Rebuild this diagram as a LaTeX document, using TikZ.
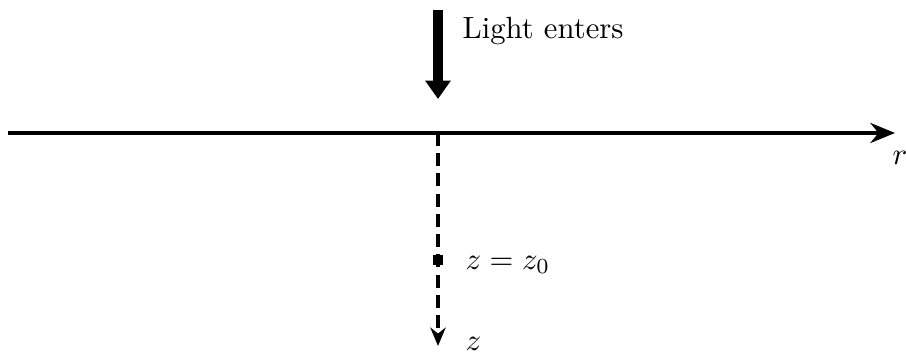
\documentclass[tikz,border=0pt]{standalone}
\usetikzlibrary{arrows.meta}
\begin{document}
\begin{tikzpicture}[x=0.326pt,y=-0.326pt]
\useasboundingbox (0,0) rectangle (906,354);
\tikzset{axisline/.style={line width=1.6pt,-{Stealth[length=8pt,width=6.5pt]}},
  beam/.style={line width=3.3pt,-{Triangle[length=6pt,width=8pt]}},
  depth/.style={line width=1pt,dash pattern=on 4.2pt off 2.4pt,-{Stealth[length=6pt,width=5pt]}}}
\coordinate (rstart) at (8,133);
\coordinate (rend) at (895,133);
\coordinate (origin) at (438,133);
\coordinate (zend) at (438,346);
\coordinate (lighttop) at (438,10);
\coordinate (lightbot) at (438,99);
\node[inner sep=0pt,anchor=west] (light) at (462,31) {Light enters};
\node[inner sep=0pt] (rlabel) at (900,158) {$r$};
\node[draw,fill,rectangle,inner sep=0pt,minimum size=2.6pt] (z0) at (438,260) {};
\node[inner sep=0pt,anchor=west] (z0label) at (465,265) {$z = z_0$};
\node[inner sep=0pt,anchor=west] (zlabel) at (465,344) {$z$};

\draw[beam] (lighttop)--(lightbot);
\draw[axisline] (rstart)--(rend);
\draw[depth] (origin)--(zend);
\end{tikzpicture}
\end{document}
